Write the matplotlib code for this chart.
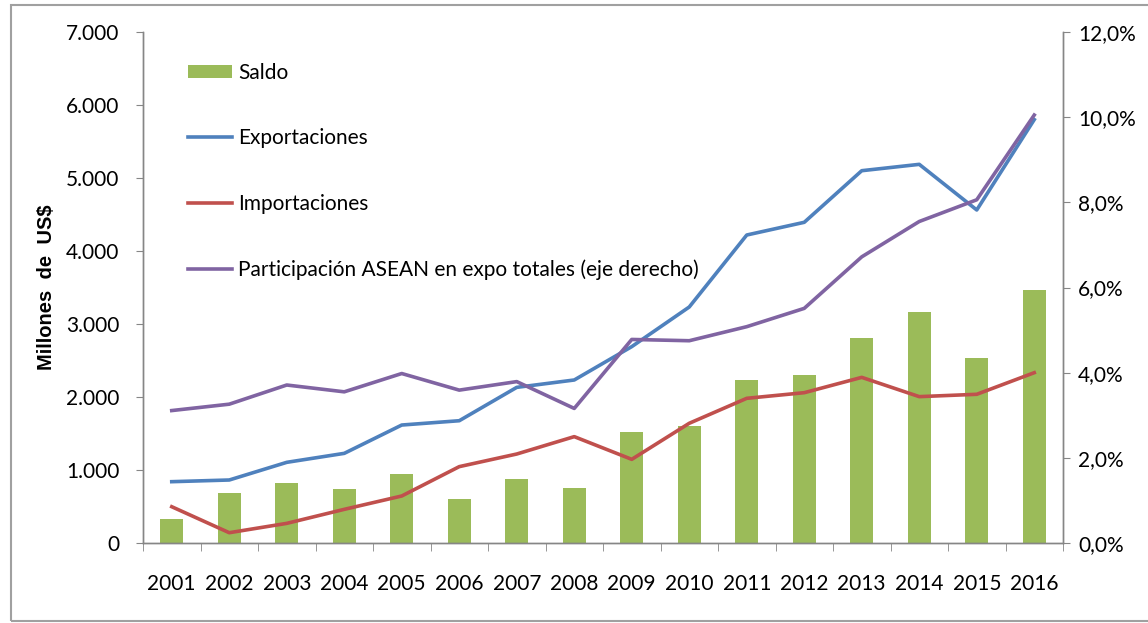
import matplotlib
matplotlib.use("Agg")
import matplotlib.pyplot as plt
from matplotlib.lines import Line2D
from matplotlib.patches import Patch, Rectangle
import numpy as np

years = ["2001", "2002", "2003", "2004", "2005", "2006", "2007", "2008",
         "2009", "2010", "2011", "2012", "2013", "2014", "2015", "2016"]
saldo = [324, 689, 826, 735, 941, 598, 872, 757,
         1525, 1603, 2233, 2301, 2804, 3169, 2530, 3466]
exportaciones = [840, 863, 1105, 1228, 1616, 1675, 2132, 2233,
                 2690, 3233, 4219, 4393, 5100, 5187, 4562, 5800]
importaciones = [497, 141, 269, 461, 644, 1046, 1219, 1457,
                 1146, 1640, 1982, 2059, 2269, 2005, 2037, 2333]
participacion = [3.11, 3.26, 3.71, 3.55, 3.98, 3.59, 3.79, 3.16,
                 4.78, 4.75, 5.08, 5.51, 6.72, 7.55, 8.06, 10.05]
left_ticks = [0, 1000, 2000, 3000, 4000, 5000, 6000, 7000]
left_labels = ["0", "1.000", "2.000", "3.000", "4.000", "5.000", "6.000", "7.000"]
right_ticks = [0, 2, 4, 6, 8, 10, 12]
right_labels = ["0,0%", "2,0%", "4,0%", "6,0%", "8,0%", "10,0%", "12,0%"]

FONT = ["Lato", "DejaVu Sans"]
plt.rcParams["font.family"] = FONT
FS = 15

c_bar = "#9BBB59"
c_exp = "#4F81BD"
c_imp = "#C0504D"
c_par = "#8064A2"
c_axis = "#868686"
LW = 2.6

fig = plt.figure(figsize=(11.48, 6.23), dpi=100)
ax = fig.add_axes([143/1148, 1-543/623, (1063-143)/1148, (543-32)/623])
x = np.arange(len(years))

ax.bar(x, saldo, width=0.4, color=c_bar, zorder=2)
ax.plot(x, exportaciones, color=c_exp, lw=LW, zorder=3)
ax.plot(x, importaciones, color=c_imp, lw=LW, zorder=3)

ax2 = ax.twinx()
ax2.plot(x, participacion, color=c_par, lw=LW, zorder=4)

ax.set_xlim(-0.5, len(years) - 0.5)
ax.set_ylim(0, 7000)
ax2.set_ylim(0, 12)

ax.set_yticks(left_ticks)
ax.set_yticklabels(left_labels, fontsize=FS)
ax2.set_yticks(right_ticks)
ax2.set_yticklabels(right_labels, fontsize=FS)

ax.set_xticks(x)
ax.set_xticklabels(years, fontsize=FS)
ax.set_xticks(np.arange(-0.5, len(years), 1.0), minor=True)
ax.tick_params(axis="x", which="major", length=0, pad=22)
ax.tick_params(axis="x", which="minor", length=6, color=c_axis, direction="out")
ax.tick_params(axis="y", length=5, color=c_axis, pad=12)
ax2.tick_params(axis="y", length=5, color=c_axis, pad=6)

for a in (ax, ax2):
    a.spines["top"].set_visible(False)
    for s in ("left", "right", "bottom"):
        a.spines[s].set_color(c_axis)
        a.spines[s].set_linewidth(1.0)

ax.set_ylabel("Millones  de  US$", fontsize=14.5, fontweight="bold",
              family=["Liberation Sans", "DejaVu Sans"])
ax.yaxis.set_label_coords(-0.095, 0.5)

handles = [Patch(facecolor=c_bar, edgecolor="none"),
           Line2D([0], [0], color=c_exp, lw=LW),
           Line2D([0], [0], color=c_imp, lw=LW),
           Line2D([0], [0], color=c_par, lw=LW)]
labels = ["Saldo", "Exportaciones", "Importaciones",
          "Participación ASEAN en expo totales (eje derecho)"]
ax2.legend(handles, labels, loc="upper left", bbox_to_anchor=(0.04, 0.956),
           frameon=False, fontsize=FS, labelspacing=2.18, handlelength=2.1,
           handletextpad=0.3, handleheight=0.6, borderaxespad=0)

fig.patches.append(Rectangle((11/1148, 0.004), 1.2, 1-5/623-0.004,
                             transform=fig.transFigure, fill=False,
                             edgecolor="#A0A0A0", lw=1.5))

fig.savefig("out.png", dpi=100)
